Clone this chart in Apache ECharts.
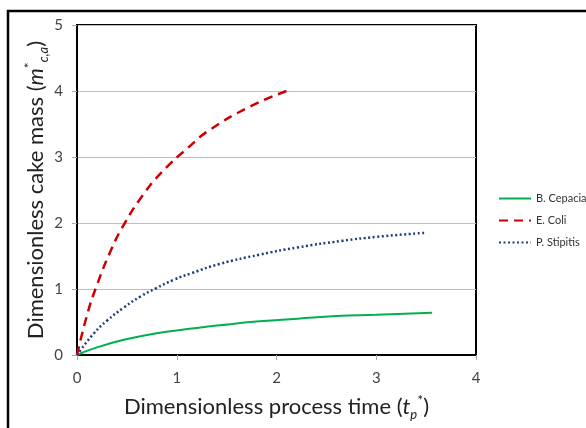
<!DOCTYPE html>
<html>
<head>
<meta charset="utf-8">
<script src="https://cdn.jsdelivr.net/npm/echarts@6/dist/echarts.min.js"></script>
<style>
  html, body { margin: 0; padding: 0; background: #fff; }
  #chart { width: 586px; height: 428px; }
</style>
</head>
<body>
<div id="chart"></div>
<script>
// values: [t_p*, m*_c,a]
var bCepacia = [[0, 0], [0.17, 0.1], [0.47, 0.23], [0.8, 0.33], [1.15, 0.4], [1.43, 0.45], [1.83, 0.51], [2.21, 0.55], [2.6, 0.59], [3.0, 0.61], [3.56, 0.64]];
var eColi = [[0, 0], [0.1, 0.6], [0.19, 1.02], [0.35, 1.62], [0.48, 2.0], [0.65, 2.4], [0.85, 2.77], [1.12, 3.15], [1.33, 3.41], [1.73, 3.76], [2.1, 4.0]];
var pStipitis = [[0, 0], [0.17, 0.33], [0.3, 0.52], [0.47, 0.72], [0.64, 0.89], [0.79, 1.01], [0.97, 1.14], [1.15, 1.24], [1.43, 1.38], [1.83, 1.52], [2.21, 1.63], [2.66, 1.73], [3.0, 1.79], [3.48, 1.85]];
var seriesNames = ['B. Cepacia', 'E. Coli', 'P. Stipitis'];

var chart = echarts.init(document.getElementById('chart'));
var font = 'Lato, "Open Sans", sans-serif';

// rich styles for the axis titles (italic, sub and superscripts)
function titleRich(size) {
  return {
    n: { fontSize: size, color: '#222', fontFamily: font, lineHeight: 28 },
    i: { fontSize: size, color: '#222', fontStyle: 'italic', fontFamily: font, lineHeight: 28 },
    sub: { fontSize: 13, color: '#222', fontStyle: 'italic', fontFamily: font, verticalAlign: 'bottom', lineHeight: 28 },
    sup: { fontSize: 14, color: '#222', fontFamily: font, verticalAlign: 'top', lineHeight: 28 }
  };
}

var option = {
  backgroundColor: '#ffffff',
  animation: false,
  textStyle: { fontFamily: font },
  graphic: [{
    type: 'rect',
    shape: { x: 8, y: 11, width: 600, height: 440 },
    style: { fill: 'none', stroke: '#000', lineWidth: 2.5 },
    silent: true
  }],
  grid: { left: 77, top: 25, right: 110, bottom: 73, show: true, borderColor: '#000', borderWidth: 2, backgroundColor: 'transparent' },
  legend: {
    left: 498, top: 193, padding: 0, orient: 'vertical', itemGap: 11, itemWidth: 32, itemHeight: 12,
    itemStyle: { opacity: 0 },
    textStyle: { fontSize: 11, color: '#333', fontFamily: font },
    data: seriesNames
  },
  xAxis: {
    type: 'value', min: 0, max: 4, interval: 1,
    axisLine: { show: true, lineStyle: { color: '#000', width: 2 } },
    axisTick: { show: true, length: 5, lineStyle: { color: '#aaa' } },
    axisLabel: { fontSize: 15, color: '#444', margin: 16, fontFamily: font },
    splitLine: { show: false },
    name: '{n|Dimensionless process time (}{i|t}{sub|p}{sup|*}{n|)}',
    nameLocation: 'middle', nameGap: 38, nameMoveOverlap: false,
    nameTextStyle: { rich: titleRich(22) }
  },
  yAxis: {
    type: 'value', min: 0, max: 5, interval: 1,
    axisLine: { show: true, lineStyle: { color: '#000', width: 2 } },
    axisTick: { show: true, length: 5, lineStyle: { color: '#aaa' } },
    axisLabel: { fontSize: 15, color: '#444', margin: 14, fontFamily: font },
    splitLine: { show: true, lineStyle: { color: '#bfbfbf', width: 1 } },
    name: '{n|Dimensionless cake mass (}{i|m}{sup|*}{sub|c,a}{n|)}',
    nameLocation: 'middle', nameGap: 27, nameRotate: 90, nameMoveOverlap: false,
    nameTextStyle: { rich: titleRich(22) }
  },
  series: [{
    name: seriesNames[0], type: 'line', data: bCepacia, smooth: true, symbol: 'none',
    lineStyle: { color: '#00b050', width: 2 }, itemStyle: { color: '#00b050' }
  }, {
    name: seriesNames[1], type: 'line', data: eColi, smooth: true, symbol: 'none',
    lineStyle: { color: '#cc0000', width: 2.5, type: [9, 6] }, itemStyle: { color: '#cc0000' }
  }, {
    name: seriesNames[2], type: 'line', data: pStipitis, smooth: true, symbol: 'none',
    lineStyle: { color: '#1f3d7a', width: 2.5, type: [2, 2.5] }, itemStyle: { color: '#1f3d7a' }
  }]
};
chart.setOption(option);
</script>
</body>
</html>
